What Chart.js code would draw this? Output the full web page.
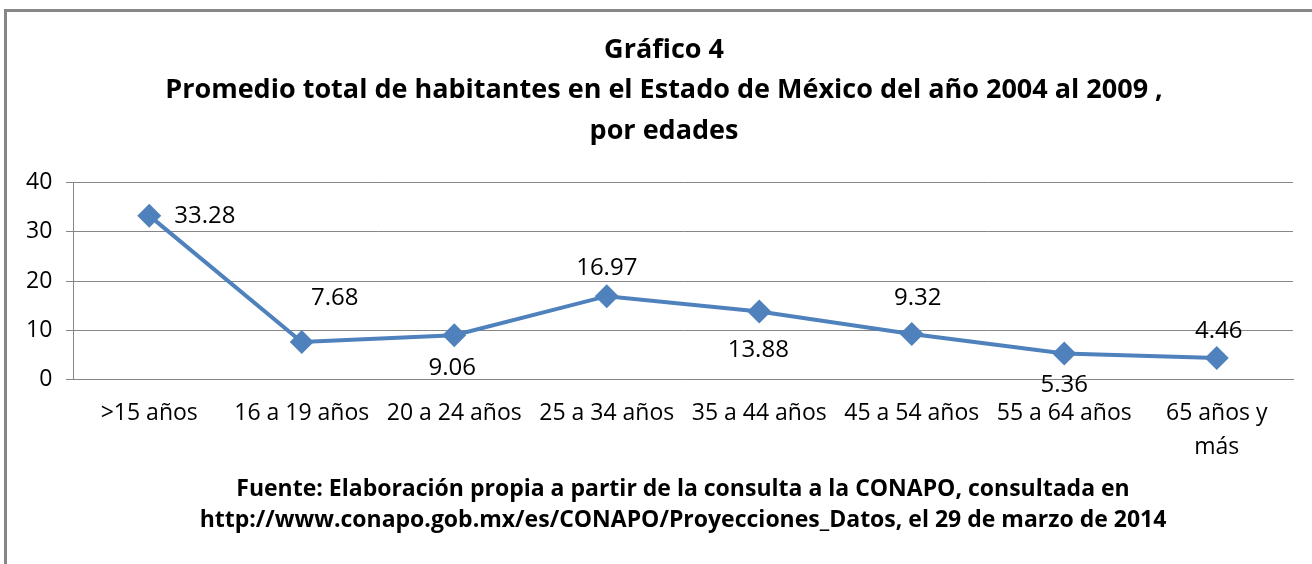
<!DOCTYPE html>
<html>
<head>
<meta charset="utf-8">
<script src="https://cdn.jsdelivr.net/npm/chart.js@4"></script>
<style>
  html, body { margin: 0; padding: 0; background: #fff; }
  #wrap { width: 1312px; height: 564px; position: relative; }
</style>
</head>
<body>
<div id="wrap"><canvas id="chart4"></canvas></div>
<script>
/* data */
const categories = [
    '>15 años',
    '16 a 19 años',
    '20 a 24 años',
    '25 a 34 años',
    '35 a 44 años',
    '45 a 54 años',
    '55 a 64 años',
    ['65 años y', 'más']
];
const promedio = [33.28, 7.68, 9.06, 16.97, 13.88, 9.32, 5.36, 4.46];
const yTicks = [0, 10, 20, 30, 40];

/* where each value label sits relative to its point */
const labelPlacement = [
    { dx: 25, dy: 0, align: 'left' },
    { dx: 33, dy: -44, align: 'center' },
    { dx: -2, dy: 33, align: 'center' },
    { dx: 0, dy: -28, align: 'center' },
    { dx: -1, dy: 39, align: 'center' },
    { dx: 6, dy: -36, align: 'center' },
    { dx: 0, dy: 32, align: 'center' },
    { dx: 2, dy: -27, align: 'center' }
];

const FONT = '"Open Sans", Lato, sans-serif';

/* frame round the chart */
const framePlugin = {
    id: 'frame',
    beforeDraw(chart) {
        const c = chart.ctx;
        c.save();
        c.fillStyle = '#fff';
        c.fillRect(0, 0, chart.width, chart.height);
        c.strokeStyle = '#868686';
        c.lineWidth = 3;
        c.beginPath();
        c.moveTo(5.5, chart.height + 5);
        c.lineTo(5.5, 10.5);
        c.lineTo(chart.width + 5, 10.5);
        c.stroke();
        c.restore();
    }
};

/* value labels */
const valueLabels = {
    id: 'valueLabels',
    afterDatasetsDraw(chart) {
        const c = chart.ctx;
        const meta = chart.getDatasetMeta(0);
        c.save();
        c.font = '24px ' + FONT;
        c.fillStyle = '#000';
        c.textBaseline = 'middle';
        meta.data.forEach((pt, i) => {
            const p = labelPlacement[i];
            c.textAlign = p.align;
            c.fillText(promedio[i].toFixed(2), pt.x + p.dx, pt.y + p.dy);
        });
        c.restore();
    }
};

const chart4 = new Chart(document.getElementById('chart4'), {
    type: 'line',
    data: {
        labels: categories,
        datasets: [{
            label: 'Promedio',
            data: promedio,
            borderColor: '#4F81BD',
            backgroundColor: '#4F81BD',
            borderWidth: 4,
            pointStyle: 'rectRot',
            pointRadius: 12,
            pointHoverRadius: 12,
            pointBorderWidth: 0,
            tension: 0
        }]
    },
    options: {
        responsive: true,
        maintainAspectRatio: false,
        animation: false,
        layout: { padding: { left: 35, right: 19, top: 0, bottom: 28 } },
        plugins: {
            legend: { display: false },
            tooltip: { enabled: false },
            title: {
                display: true,
                text: [
                    'Gráfico 4',
                    'Promedio total de habitantes en el Estado de México del año 2004 al 2009 ,',
                    'por edades'
                ],
                color: '#000',
                font: { family: FONT, size: 27, weight: 'bold', lineHeight: 1.5 },
                padding: { top: 30, bottom: 31 }
            },
            subtitle: {
                display: true,
                position: 'bottom',
                fullSize: false,
                text: [
                    'Fuente: Elaboración propia a partir de la consulta a la CONAPO, consultada en',
                    'http://www.conapo.gob.mx/es/CONAPO/Proyecciones_Datos, el 29 de marzo de 2014'
                ],
                color: '#000',
                font: { family: FONT, size: 23, weight: 'bold', lineHeight: 1.35 },
                padding: { top: 0, bottom: 0 }
            }
        },
        scales: {
            x: {
                offset: true,
                grid: { display: false, drawTicks: false },
                border: { display: true, color: '#868686', width: 1 },
                ticks: {
                    color: '#000',
                    font: { family: FONT, size: 23, lineHeight: 1.5 },
                    padding: 16,
                    maxRotation: 0,
                    autoSkip: false
                },
                afterFit(scale) { scale.height = 94; }
            },
            y: {
                min: 0,
                max: 40,
                afterBuildTicks(scale) {
                    scale.ticks = yTicks.map(v => ({ value: v }));
                },
                grid: { color: '#868686', tickLength: 7, lineWidth: 1 },
                border: { display: true, color: '#868686', width: 1 },
                ticks: {
                    color: '#000',
                    font: { family: FONT, size: 23 },
                    mirror: true,
                    crossAlign: 'far',
                    padding: -47
                },
                afterFit(scale) { scale.width = 38; }
            }
        }
    },
    plugins: [framePlugin, valueLabels]
});
</script>
</body>
</html>
